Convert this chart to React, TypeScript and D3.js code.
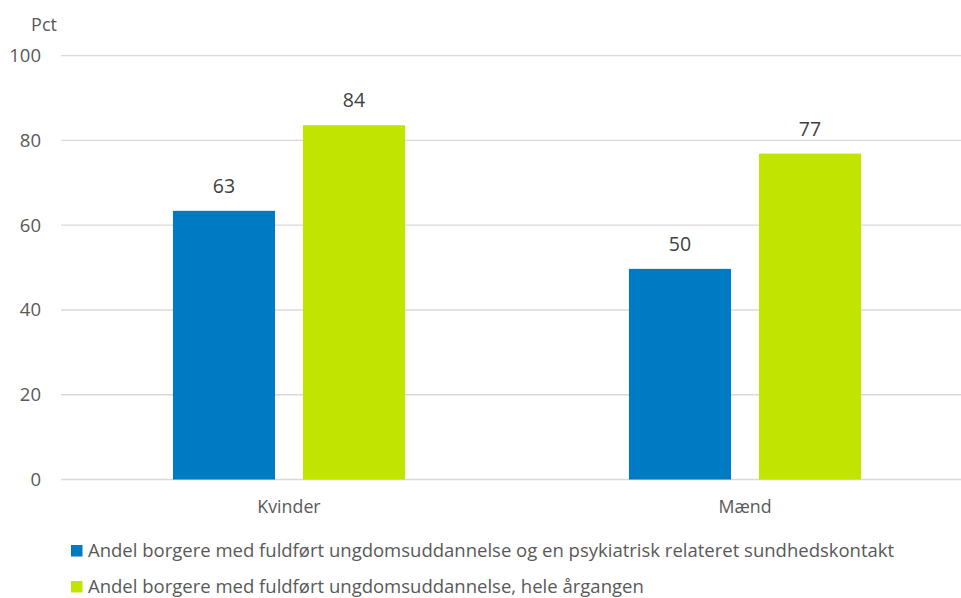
import React from 'react';
import * as d3 from 'd3';

const categories = ['Kvinder', 'Mænd'];
const seriesNames = [
  'Andel borgere med fuldført ungdomsuddannelse og en psykiatrisk relateret sundhedskontakt',
  'Andel borgere med fuldført ungdomsuddannelse, hele årgangen',
];
const psykValues = [63.4, 49.7];
const alleValues = [83.6, 76.9];
const yTicks = [0, 20, 40, 60, 80, 100];
const colors = ['#007AC2', '#C2E500'];

const width = 961;
const height = 598;
const font = '"Open Sans", sans-serif';

const App = () => {
  const x0 = d3.scaleBand().domain(categories).range([61, 973]).padding(0);
  const x1 = d3
    .scaleBand()
    .domain(seriesNames)
    .range([0, x0.bandwidth()])
    .paddingInner(0.215)
    .paddingOuter(0.861);
  const y = d3.scaleLinear().domain([0, 100]).range([479.5, 55.7]);
  const fmt = d3.format('.0f');

  const series = [psykValues, alleValues];

  return (
    <svg
      width={width}
      height={height}
      style={{ position: 'fixed', left: 0, top: 0, background: '#fff' }}
      fontFamily={font}
    >
      {/* gitterlinjer */}
      {yTicks.map((t) => (
        <g key={t}>
          <line x1={61} x2={width} y1={y(t)} y2={y(t)} stroke="#d9d9d9" strokeWidth={1.3} />
          <text x={41} y={y(t) + 6.5} textAnchor="end" fontSize={18.5} fill="#595959">
            {t}
          </text>
        </g>
      ))}
      <text x={44} y={31} textAnchor="middle" fontSize={18} fill="#595959">
        Pct
      </text>

      {/* søjler */}
      {categories.map((c, i) => (
        <g key={c} transform={`translate(${x0(c)},0)`}>
          {seriesNames.map((s, j) => {
            const v = series[j][i];
            const bx = x1(s) as number;
            return (
              <g key={s}>
                <rect x={bx} y={y(v)} width={x1.bandwidth()} height={y(0) - y(v)} fill={colors[j]} />
                <text
                  x={bx + x1.bandwidth() / 2}
                  y={y(v) - 18}
                  textAnchor="middle"
                  fontSize={19.5}
                  fill="#404040"
                >
                  {fmt(v)}
                </text>
              </g>
            );
          })}
          <text x={x0.bandwidth() / 2} y={513} textAnchor="middle" fontSize={17.8} fill="#595959">
            {c}
          </text>
        </g>
      ))}

      {/* legende */}
      {seriesNames.map((s, j) => (
        <g key={s} transform={`translate(71,${545 + j * 36})`}>
          <rect x={0} y={0} width={11.5} height={11.5} fill={colors[j]} />
          <text x={17} y={12} fontSize={18.5} fill="#595959">
            {s}
          </text>
        </g>
      ))}
    </svg>
  );
};

export default App;
